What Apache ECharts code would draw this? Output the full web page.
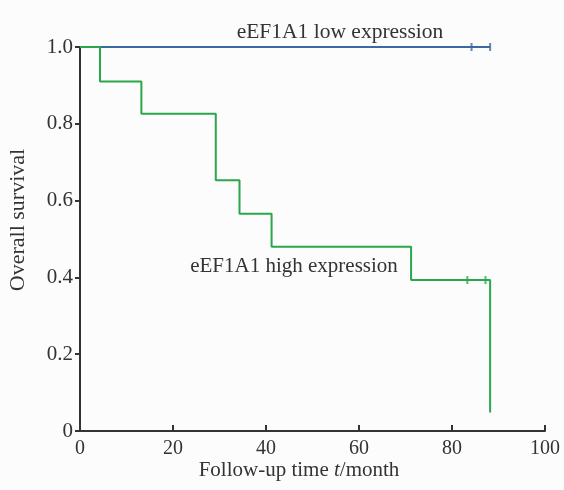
<!DOCTYPE html>
<html lang="en">
<head>
    <meta charset="UTF-8">
    <title>Overall survival</title>
    <script type="text/javascript" src="https://cdn.jsdelivr.net/npm/echarts@6/dist/echarts.min.js"></script>
</head>
<body>
<div id="chart"></div>
</body>
<style>
    * {
        padding: 0;
        margin: 0;
    }

    html, body {
        width: 100%;
        height: 100%;
        background-color: #fcfcfc;
    }

    #chart {
        width: 564px;
        height: 490px;
    }
</style>
<script>

    // step points: time (month) and survival after the event
    let highTimes = [0, 4.3, 13.2, 29.2, 34.3, 41.2, 71.2, 88.2]
    let highSurv = [1, 0.91, 0.826, 0.653, 0.566, 0.48, 0.393, 0.048]
    let lowTimes = [0, 88.2]
    let lowSurv = [1, 1]

    // censored marks
    let highCensorTimes = [83.3, 87.2]
    let highCensorSurv = [0.393, 0.393]
    let lowCensorTimes = [84.2, 88.2]
    let lowCensorSurv = [1, 1]

    let xTicks = [0, 20, 40, 60, 80, 100]
    let yTicks = [0, 0.2, 0.4, 0.6, 0.8, 1.0]

    const font = "'Liberation Serif', 'Times New Roman', serif"
    const green = "#2aa64b"
    const blue = "#3b6aa3"
    const axisColor = "#333"

    const pairs = function (xs, ys) {
        return xs.map((x, i) => [x, ys[i]])
    }

    let chart = echarts.init(document.getElementById("chart"))
    chart.setOption({
        animation: false,
        grid: {left: 80, right: 19, top: 47, bottom: 59},
        xAxis: {
            type: 'value',
            min: xTicks[0],
            max: xTicks[xTicks.length - 1],
            interval: 20,
            axisLine: {lineStyle: {color: axisColor, width: 2}},
            axisTick: {inside: true, length: 6, lineStyle: {color: axisColor, width: 2}},
            axisLabel: {margin: 8, color: axisColor, fontSize: 20, fontFamily: font},
            splitLine: {show: false}
        },
        yAxis: {
            type: 'value',
            min: yTicks[0],
            max: yTicks[yTicks.length - 1],
            interval: 0.2,
            axisLine: {show: true, lineStyle: {color: axisColor, width: 2}},
            axisTick: {show: true, length: 5, lineStyle: {color: axisColor, width: 2}},
            axisLabel: {
                margin: 7, color: axisColor, fontSize: 21, fontFamily: font,
                formatter: (v) => v === 0 ? '0' : v.toFixed(1)
            },
            splitLine: {show: false}
        },
        graphic: [
            {
                type: 'text', x: 18, y: 220, rotation: Math.PI / 2,
                style: {
                    text: 'Overall survival', fill: axisColor, font: '22px ' + font,
                    align: 'center', verticalAlign: 'middle'
                }
            },
            {
                type: 'text', x: 299, y: 470,
                style: {
                    text: '{n|Follow-up time }{i|t}{n|/month}',
                    align: 'center', verticalAlign: 'middle',
                    rich: {
                        n: {fontSize: 21, fontFamily: font, fill: axisColor},
                        i: {fontSize: 21, fontFamily: font, fontStyle: 'italic', fill: axisColor}
                    }
                }
            },
            {
                type: 'text', x: 340, y: 32,
                style: {
                    text: 'eEF1A1 low expression', fill: axisColor, font: '21.5px ' + font,
                    align: 'center', verticalAlign: 'middle'
                }
            },
            {
                type: 'text', x: 294, y: 266,
                style: {
                    text: 'eEF1A1 high expression', fill: axisColor, font: '21px ' + font,
                    align: 'center', verticalAlign: 'middle'
                }
            }
        ],
        series: [
            {
                name: 'low',
                type: 'line',
                step: 'end',
                showSymbol: false,
                lineStyle: {color: blue, width: 2},
                data: pairs(lowTimes, lowSurv)
            },
            {
                name: 'low censored',
                type: 'scatter',
                symbol: 'rect',
                symbolSize: [2, 8],
                itemStyle: {color: blue},
                data: pairs(lowCensorTimes, lowCensorSurv)
            },
            {
                name: 'high',
                type: 'line',
                step: 'end',
                showSymbol: false,
                lineStyle: {color: green, width: 2},
                data: pairs(highTimes, highSurv)
            },
            {
                name: 'high censored',
                type: 'scatter',
                symbol: 'rect',
                symbolSize: [2, 8],
                itemStyle: {color: green},
                data: pairs(highCensorTimes, highCensorSurv)
            }
        ]
    })

</script>
</html>
